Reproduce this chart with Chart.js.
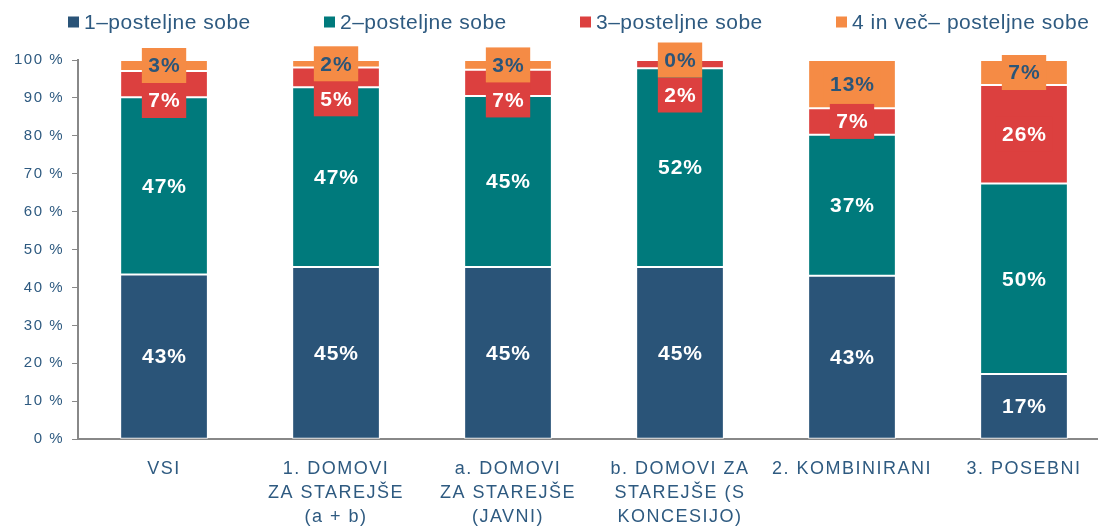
<!DOCTYPE html>
<html>
<head>
<meta charset="utf-8">
<script src="https://cdn.jsdelivr.net/npm/chart.js@4.4.1/dist/chart.umd.min.js"></script>
<style>
  html, body { margin: 0; padding: 0; overflow: hidden; background: #fff; }
  #wrap { width: 1112px; height: 530px; }
</style>
</head>
<body>
<div id="wrap"><canvas id="chart"></canvas></div>
<script>
// Data
const categories = [
    'VSI',
    ['1. DOMOVI', 'ZA STAREJŠE', '(a + b)'],
    ['a. DOMOVI', 'ZA STAREJŠE', '(JAVNI)'],
    ['b. DOMOVI ZA', 'STAREJŠE (S', 'KONCESIJO)'],
    '2. KOMBINIRANI',
    '3. POSEBNI'
];
const seriesNames = ['1–posteljne sobe', '2–posteljne sobe', '3–posteljne sobe', '4 in več– posteljne sobe'];
const oneBed   = [43.4, 45.4, 45.4, 45.4, 43.1, 17.2];
const twoBed   = [46.8, 47.4, 45.1, 52.4, 37.2, 50.2];
const threeBed = [6.9, 5.2, 6.9, 2.2, 7.0, 26.0];
const fourBed  = [2.9, 2.0, 2.6, 0.0, 12.7, 6.6];
const yTicks = [0, 10, 20, 30, 40, 50, 60, 70, 80, 90, 100];

const colors = ['#2A5478', '#007A7C', '#DC403F', '#F58B45'];
const labelColors = ['#ffffff', '#ffffff', '#ffffff', '#2B5578'];
const textColor = '#2E5A80';
const fontFamily = "'Liberation Sans', Arial, sans-serif";

// the source text is set a bit loose, so widen all canvas text
const spacing = {
    id: 'spacing',
    beforeLayout(chart) { chart.ctx.letterSpacing = '1.5px'; },
    beforeDraw(chart) { chart.ctx.letterSpacing = '1.5px'; }
};

// Data labels with boxes, pushed down when they would overlap
const labelPlugin = {
    id: 'segLabels',
    afterDatasetsDraw(chart) {
        const ctx = chart.ctx;
        ctx.save();
        ctx.letterSpacing = '1px';
        ctx.font = 'bold 21px ' + fontFamily;
        ctx.textAlign = 'center';
        ctx.textBaseline = 'middle';
        const boxH = 35;
        const n = chart.data.labels.length;
        for (let i = 0; i < n; i++) {
            const placed = [];
            let prevBottom = -Infinity;
            for (let d = chart.data.datasets.length - 1; d >= 0; d--) {
                const el = chart.getDatasetMeta(d).data[i];
                const v = chart.data.datasets[d].data[i];
                const text = Math.round(v) + '%';
                let cy = (el.y + el.base) / 2;
                if (d >= 2) cy = Math.max(cy, prevBottom + boxH / 2);
                prevBottom = cy + boxH / 2;
                placed.push({ d, x: el.x, cy, text });
            }
            placed.reverse().forEach(p => {
                const w = ctx.measureText(p.text).width + 12;
                if (p.d >= 2) {
                    ctx.fillStyle = colors[p.d];
                    ctx.fillRect(p.x - w / 2, p.cy - boxH / 2, w, boxH);
                }
                ctx.fillStyle = labelColors[p.d];
                ctx.fillText(p.text, p.x + 0.5, p.cy + 1);
            });
        }
        ctx.restore();
    }
};

// Legend drawn by hand across the top
const legendPlugin = {
    id: 'topLegend',
    afterDraw(chart) {
        const ctx = chart.ctx;
        ctx.save();
        ctx.letterSpacing = '0.5px';
        ctx.font = '21px ' + fontFamily;
        ctx.textBaseline = 'middle';
        const box = 11, gapText = 5, step = 256;
        let x = 68;
        const y = 22;
        chart.data.datasets.forEach((ds, k) => {
            ctx.fillStyle = colors[k];
            ctx.fillRect(x, y - box / 2, box, box);
            ctx.fillStyle = textColor;
            ctx.fillText(ds.label, x + box + gapText, y + 1);
            x += step;
        });
        ctx.restore();
    }
};

const ctx = document.getElementById('chart').getContext('2d');
new Chart(ctx, {
    type: 'bar',
    data: {
        labels: categories,
        datasets: [oneBed, twoBed, threeBed, fourBed].map((data, k) => ({
            label: seriesNames[k],
            data: data,
            backgroundColor: colors[k],
            borderColor: '#ffffff',
            borderWidth: 1,
            borderSkipped: false,
            barPercentage: 0.51,
            categoryPercentage: 1
        }))
    },
    options: {
        responsive: true,
        maintainAspectRatio: false,
        animation: false,
        layout: { padding: { left: 6, right: 2, top: 60, bottom: -17 } },
        plugins: {
            legend: { display: false },
            tooltip: { enabled: false }
        },
        scales: {
            x: {
                stacked: true,
                grid: { display: false, drawTicks: false, tickLength: 0 },
                border: { display: true, color: '#888888', width: 2 },
                ticks: {
                    color: textColor,
                    font: { family: fontFamily, size: 18, lineHeight: 1.33 },
                    padding: 18,
                    maxRotation: 0,
                    autoSkip: false
                }
            },
            y: {
                stacked: true,
                min: 0,
                max: 100,
                afterBuildTicks(axis) {
                    axis.ticks = yTicks.map(v => ({ value: v }));
                },
                grid: { drawOnChartArea: false, tickLength: 6, color: '#888888' },
                border: { display: true, color: '#888888', width: 2 },
                ticks: {
                    color: textColor,
                    font: { family: fontFamily, size: 15 },
                    padding: 8,
                    callback: v => v + ' %'
                }
            }
        }
    },
    plugins: [spacing, labelPlugin, legendPlugin]
});
</script>
</body>
</html>
